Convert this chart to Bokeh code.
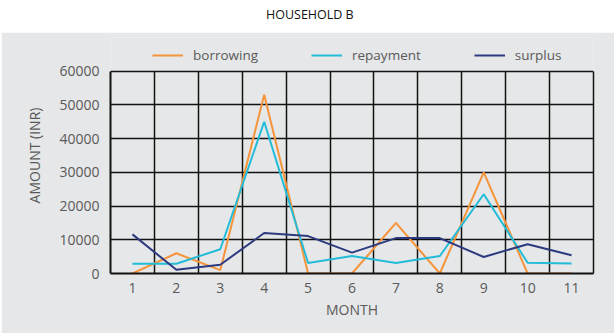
from bokeh.plotting import figure
from bokeh.models import (ColumnDataSource, Range1d, FixedTicker, Legend, LegendItem, LinearAxis)
from bokeh.layouts import column
from bokeh.core.properties import value
from bokeh.embed import file_html
from bokeh.resources import INLINE

months = [1, 2, 3, 4, 5, 6, 7, 8, 9, 10, 11]
month_labels = ["1", "2", "3", "4", "5", "6", "7", "8", "9", "10", "11"]
borrowing = [0, 6000, 1000, 53000, 0, 0, 15000, 0, 30000, 0, 0]
repayment = [2900, 2900, 7200, 45000, 3100, 5200, 3100, 5200, 23500, 3200, 3000]
surplus = [11600, 1100, 2600, 12000, 11100, 6200, 10500, 10500, 4900, 8700, 5400]
series_names = ["borrowing", "repayment", "surplus"]
series_colors = ["#f5943a", "#22bcd8", "#2d3a80"]
y_ticks = [0, 10000, 20000, 30000, 40000, 50000, 60000]
y_max = 60000

FONT = "Open Sans"
GRAY_BG = "#e6e7e8"
TXT = "#595959"
LINE = "#111111"

# header with title (white strip); its frame is aligned with the main plot frame (110..593)
hdr = figure(width=615, height=32, x_range=Range1d(110, 593), y_range=Range1d(32, 0),
             output_backend="svg", toolbar_location=None, min_border=0,
             background_fill_color="white", border_fill_color="white", outline_line_color=None)
hdr.axis.visible = False
hdr.grid.visible = False
hdr.text(x=[309.5], y=[14], text=["HOUSEHOLD B"], text_font=value(FONT), text_font_size="12.5px",
         text_color="#111111", text_align="center", text_baseline="middle")

src = ColumnDataSource(dict(m=months, b=borrowing, r=repayment, s=surplus))

# frame extends above the 60000 line to hold the legend
p = figure(width=613, height=301, x_range=Range1d(0.5, 11.5), y_range=Range1d(0, 70000),
           output_backend="svg", toolbar_location=None,
           background_fill_color=GRAY_BG, border_fill_color=GRAY_BG,
           min_border_left=109, min_border_right=21, min_border_top=5, min_border_bottom=60,
           margin=(0, 1, 2, 1))
p.outline_line_color = None

p.xgrid.ticker = FixedTicker(ticks=[1.5, 2.5, 3.5, 4.5, 5.5, 6.5, 7.5, 8.5, 9.5, 10.5])
p.xgrid.grid_line_color = LINE
p.xgrid.grid_line_width = 1.5
p.xgrid.cross_bounds = (0, y_max)
p.ygrid.ticker = FixedTicker(ticks=y_ticks)
p.ygrid.grid_line_color = LINE
p.ygrid.grid_line_width = 1.5

p.xaxis.ticker = FixedTicker(ticks=months)
p.xaxis.major_label_overrides = {m: l for m, l in zip(months, month_labels)}
p.yaxis.ticker = FixedTicker(ticks=y_ticks)
p.yaxis.bounds = (0, y_max)
for ax in (p.xaxis, p.yaxis):
    ax.major_tick_line_color = None
    ax.minor_tick_line_color = None
    ax.axis_line_color = LINE
    ax.axis_line_width = 2
    ax.major_label_text_font = FONT
    ax.major_label_text_font_size = "14px"
    ax.major_label_text_color = TXT
    ax.axis_label_text_font = FONT
    ax.axis_label_text_font_size = "14px"
    ax.axis_label_text_font_style = "normal"
    ax.axis_label_text_color = TXT
p.yaxis.major_label_standoff = 5
p.xaxis.major_label_standoff = 3
p.xaxis.axis_label = "MONTH"
p.yaxis.axis_label = "AMOUNT (INR)"
p.xaxis.axis_label_standoff = 4
p.yaxis.axis_label_standoff = 12

# right border line
rax = LinearAxis(bounds=(0, y_max), ticker=FixedTicker(ticks=[]), axis_line_color=LINE,
                 axis_line_width=1.5, major_tick_line_color=None, minor_tick_line_color=None,
                 major_label_text_font_size="0px")
p.add_layout(rax, "right")

rb = p.line("m", "b", source=src, line_color=series_colors[0], line_width=2)
rr = p.line("m", "r", source=src, line_color=series_colors[1], line_width=2)
rs = p.line("m", "s", source=src, line_color=series_colors[2], line_width=2)

legend = Legend(items=[LegendItem(label=n, renderers=[r]) for n, r in zip(series_names, [rb, rr, rs])],
                orientation="horizontal", location=(42, 208),
                background_fill_alpha=0, border_line_color=None,
                padding=0, margin=0, spacing=53, glyph_width=31, label_standoff=10,
                label_text_font=FONT, label_text_font_size="13.5px", label_text_color=TXT)
p.add_layout(legend, "center")

layout = column(hdr, p, spacing=0)
open("out.html", "w").write(file_html(layout, INLINE))
